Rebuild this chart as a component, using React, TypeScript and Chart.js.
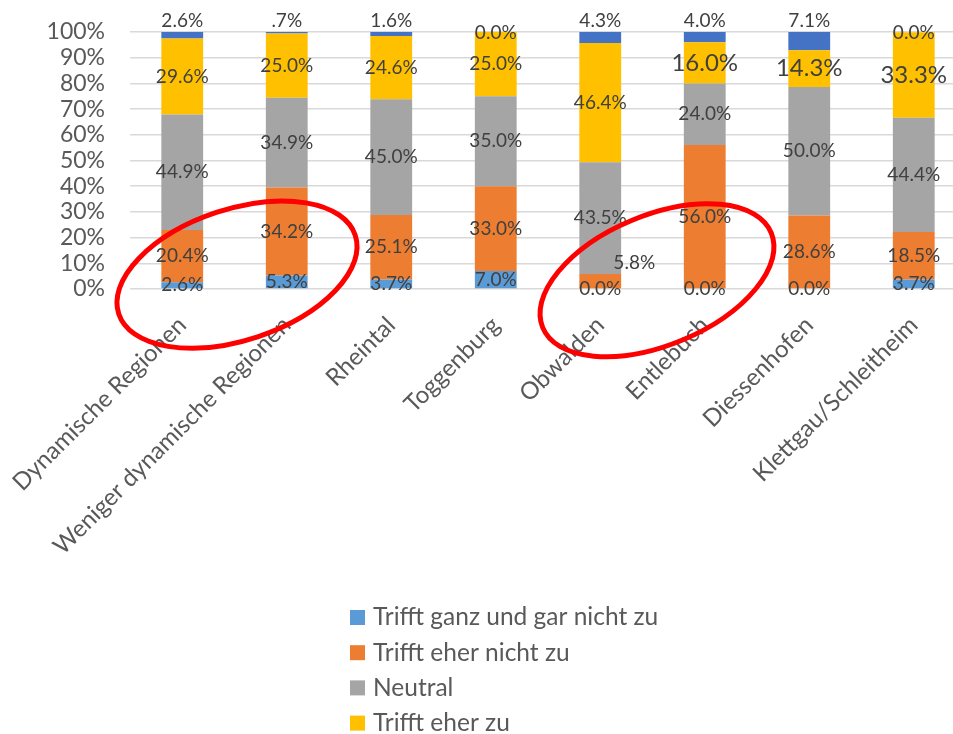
import React, { useEffect, useRef } from "react";
import { Chart, registerables } from "chart.js";

Chart.register(...registerables);

// ---------- data ----------
const categories = [
  "Dynamische Regionen",
  "Weniger dynamische Regionen",
  "Rheintal",
  "Toggenburg",
  "Obwalden",
  "Entlebuch",
  "Diessenhofen",
  "Klettgau/Schleitheim",
];

const seriesNames = [
  "Trifft ganz und gar nicht zu",
  "Trifft eher nicht zu",
  "Neutral",
  "Trifft eher zu",
  "Trifft voll und ganz zu",
];

const trifftGarNicht = [2.6, 5.3, 3.7, 7.0, 0.0, 0.0, 0.0, 3.7];
const trifftEherNicht = [20.4, 34.2, 25.1, 33.0, 5.8, 56.0, 28.6, 18.5];
const neutral = [44.9, 34.9, 45.0, 35.0, 43.5, 24.0, 50.0, 44.4];
const trifftEher = [29.6, 25.0, 24.6, 25.0, 46.4, 16.0, 14.3, 33.3];
const trifftVoll = [2.6, 0.7, 1.6, 0.0, 4.3, 4.0, 7.1, 0.0];

const yTickStep = 10;
const yMin = 0;
const yMax = 100;

// ---------- styles ----------
const COLORS = ["#5B9BD5", "#ED7D31", "#A5A5A5", "#FFC000", "#4472C4"];
const FONT = "Lato, 'Noto Sans', sans-serif";
const AXIS_TEXT = "#595959";
const LABEL_TEXT = "#404040";

const CANVAS_W = 966;
const CANVAS_H = 800;
const PAD_TOP = 32;
const Y_AXIS_W = 130;
const PLOT_H = 257;

// label tweaks (key = "dataset-index")
const LABEL_TEXT_OVERRIDES: Record<string, string> = { "4-1": ".7%" };
const LABEL_OFFSETS: Record<string, [number, number]> = { "1-4": [34, -18.5] };
const LARGE_LABELS = ["3-5", "3-6", "3-7"];
const TOP_SERIES = 4;

// annotation ellipses: center in (category index, value), radii in px, rotation deg
const ELLIPSES = [
  { cat: 0.524, val: 5.6, rx: 124.6, ry: 65.5, rot: -18.4 },
  { cat: 4.543, val: 3.4, rx: 123.7, ry: 65, rot: -22.5 },
];

const LEGEND = { x: 350, y: 617.5, rowH: 35.2, box: 15, gap: 8, size: 24.5 };

const dataLabelPlugin = {
  id: "dataLabels",
  afterDatasetsDraw(chart: any) {
    const ctx = chart.ctx;
    ctx.save();
    chart.data.datasets.forEach((ds: any, di: number) => {
      const meta = chart.getDatasetMeta(di);
      meta.data.forEach((el: any, i: number) => {
        const v = ds.data[i];
        const { x, y, base } = el.getProps(["x", "y", "base"], true);
        let tx = x;
        let ty = (y + base) / 2;
        const key = `${di}-${i}`;
        if (di === TOP_SERIES) ty = v > 0 ? y - 11 : y + 1;
        const off = LABEL_OFFSETS[key];
        if (off) {
          tx += off[0];
          ty += off[1];
        }
        const size = LARGE_LABELS.includes(key) ? 24 : 19;
        const text = LABEL_TEXT_OVERRIDES[key] ?? `${v.toFixed(1)}%`;
        ctx.font = `${size}px ${FONT}`;
        ctx.fillStyle = LABEL_TEXT;
        ctx.textAlign = "center";
        ctx.textBaseline = "middle";
        ctx.fillText(text, tx, ty);
      });
    });
    ctx.restore();
  },
};

const overlayPlugin = {
  id: "overlay",
  afterDraw(chart: any) {
    const ctx = chart.ctx;
    const xs = chart.scales.x;
    const ys = chart.scales.y;
    ctx.save();
    // legend (vertical list)
    chart.data.datasets.forEach((ds: any, i: number) => {
      const cy = LEGEND.y + i * LEGEND.rowH;
      ctx.fillStyle = ds.backgroundColor;
      ctx.fillRect(LEGEND.x, cy - LEGEND.box / 2, LEGEND.box, LEGEND.box);
      ctx.fillStyle = AXIS_TEXT;
      ctx.font = `${LEGEND.size}px ${FONT}`;
      ctx.textAlign = "left";
      ctx.textBaseline = "middle";
      ctx.fillText(ds.label, LEGEND.x + LEGEND.box + LEGEND.gap, cy);
    });
    // red annotation ellipses
    ctx.strokeStyle = "#FF0000";
    ctx.lineWidth = 5;
    ELLIPSES.forEach((e) => {
      const cx = xs.getPixelForValue(e.cat);
      const cy = ys.getPixelForValue(e.val);
      ctx.beginPath();
      ctx.ellipse(cx, cy, e.rx, e.ry, (e.rot * Math.PI) / 180, 0, Math.PI * 2);
      ctx.stroke();
    });
    ctx.restore();
  },
};

export default function App() {
  const ref = useRef<HTMLCanvasElement | null>(null);

  useEffect(() => {
    if (!ref.current) return;
    const series = [trifftGarNicht, trifftEherNicht, neutral, trifftEher, trifftVoll];
    const chart = new Chart(ref.current, {
      type: "bar",
      data: {
        labels: categories,
        datasets: series.map((d, i) => ({
          label: seriesNames[i],
          data: d,
          backgroundColor: COLORS[i],
          borderWidth: 0,
          barPercentage: 0.4,
          categoryPercentage: 1,
        })),
      },
      options: {
        responsive: false,
        animation: false,
        layout: { padding: { top: PAD_TOP, left: 0, right: 0, bottom: 0 } },
        plugins: {
          legend: { display: false },
          tooltip: { enabled: false },
        },
        scales: {
          x: {
            stacked: true,
            grid: { display: false },
            border: { display: false },
            ticks: {
              minRotation: 45,
              maxRotation: 45,
              autoSkip: false,
              padding: 14,
              color: AXIS_TEXT,
              font: { family: FONT, size: 24 },
            },
            afterFit: (s: any) => {
              s.height = CANVAS_H - PAD_TOP - PLOT_H;
              s.paddingLeft = 0;
              s.paddingRight = 0;
            },
          },
          y: {
            stacked: true,
            min: yMin,
            max: yMax,
            grid: { color: "#D9D9D9", lineWidth: 1.5, drawTicks: false },
            border: { display: false },
            ticks: {
              stepSize: yTickStep,
              autoSkip: false,
              padding: 25,
              color: AXIS_TEXT,
              font: { family: FONT, size: 23 },
              callback: (v: any) => `${v}%`,
            },
            afterFit: (s: any) => {
              s.width = Y_AXIS_W;
              s.paddingTop = 0;
              s.paddingBottom = 0;
            },
          },
        },
      },
      plugins: [dataLabelPlugin, overlayPlugin],
    });
    return () => chart.destroy();
  }, []);

  return (
    <div
      style={{
        position: "absolute",
        left: 0,
        top: 0,
        width: 953,
        height: 734,
        overflow: "hidden",
        background: "#fff",
      }}
    >
      <canvas ref={ref} width={CANVAS_W} height={CANVAS_H} style={{ display: "block" }} />
    </div>
  );
}
